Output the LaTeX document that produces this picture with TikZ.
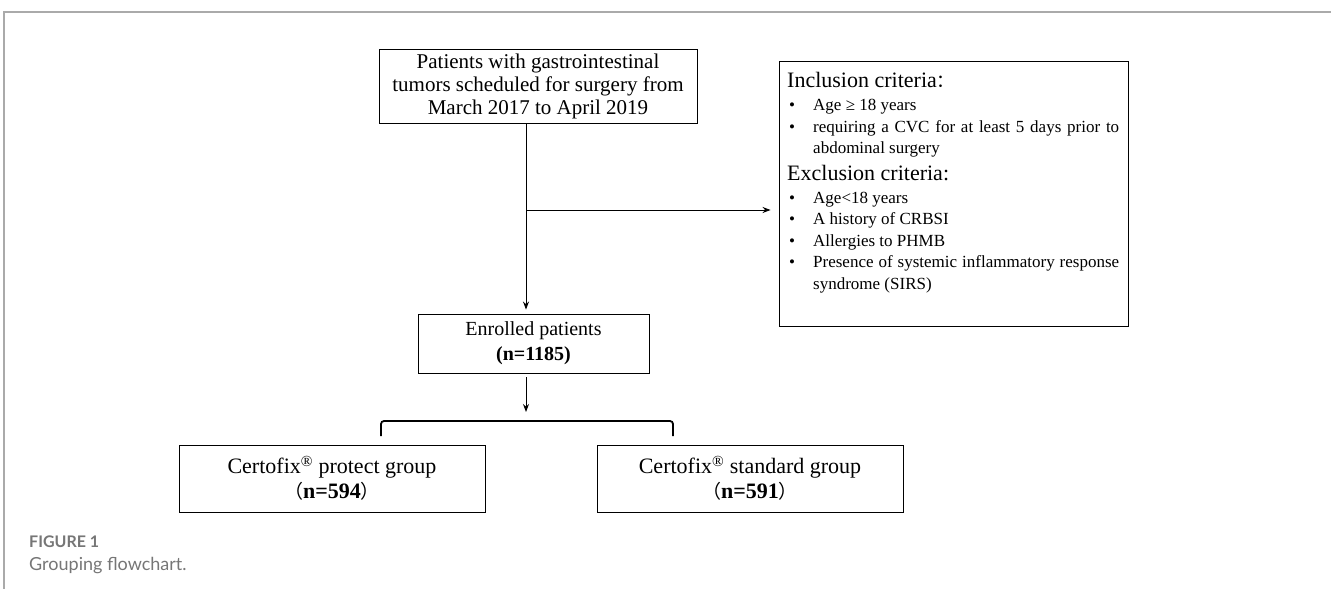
\documentclass[tikz,border=0pt]{standalone}
\usepackage{fontspec}
\setmainfont{Liberation Serif}
\newfontfamily\cjk{Noto Sans CJK SC}
\newfontfamily\capfont{Lato}
\usetikzlibrary{arrows.meta}
\definecolor{capgray}{RGB}{118,118,118}
\definecolor{framegray}{RGB}{170,170,170}
\tikzset{
  box/.style={draw=black, line width=0.9pt, inner sep=0pt, align=center},
  conn/.style={line width=0.9pt},
  arr/.style={conn, -{Stealth[length=8pt,width=6pt]}},
  bracketline/.style={line width=1.8pt, rounded corners=3pt},
  boxfont/.style={font=\fontsize{21}{23}\selectfont},
  groupfont/.style={font=\fontsize{22}{25}\selectfont},
}
\begin{document}
\begin{tikzpicture}[x=1pt,y=-1pt]
\useasboundingbox (0,0) rectangle (1331,589);
% frame
\draw[framegray, line width=1.6pt] (1331,12) -- (4,12) -- (4,589);

% top box
\node[box, boxfont, minimum width=318pt, minimum height=74pt] (p) at (538,86)
  {Patients with gastrointestinal\\tumors scheduled for surgery from\\March 2017 to April 2019};

% criteria box
\node[box, minimum width=349pt, minimum height=265pt] (crit) at (953.5,193.5) {};
\node[anchor=north west, inner sep=0pt, text width=332pt, align=justify] (critx) at (787,72) {%
{\fontsize{22}{27}\selectfont Inclusion criteria{\cjk\fontsize{18}{27}\selectfont ：}\par}
\fontsize{17}{21.5}\selectfont
\vspace{2pt}
\hangindent=26pt\hangafter=1\noindent\makebox[26pt][l]{\hspace{2pt}\textbullet}Age ≥ 18 years\par
\hangindent=26pt\hangafter=1\noindent\makebox[26pt][l]{\hspace{2pt}\textbullet}requiring a CVC for at least 5 days prior to\linebreak abdominal surgery\par
{\fontsize{22}{27}\selectfont Exclusion criteria:\par}
\fontsize{17}{21.5}\selectfont
\vspace{1pt}
\hangindent=26pt\hangafter=1\noindent\makebox[26pt][l]{\hspace{2pt}\textbullet}Age<18 years\par
\hangindent=26pt\hangafter=1\noindent\makebox[26pt][l]{\hspace{2pt}\textbullet}A history of CRBSI\par
\hangindent=26pt\hangafter=1\noindent\makebox[26pt][l]{\hspace{2pt}\textbullet}Allergies to PHMB\par
\hangindent=26pt\hangafter=1\noindent\makebox[26pt][l]{\hspace{2pt}\textbullet}Presence of systemic inflammatory response\linebreak syndrome (SIRS)\par
};

% enrolled box
\node[box, font=\fontsize{20}{25}\selectfont, minimum width=231pt, minimum height=59pt] (e) at (533.5,343.5)
  {Enrolled patients\\\textbf{(n=1185)}};

% group boxes
\node[box, groupfont, minimum width=306pt, minimum height=67pt] (g1) at (332,478.5)
  {Certofix\textsuperscript{®} protect group\\{\cjk\fontsize{19}{25}\selectfont （}\textbf{n=594}{\cjk\fontsize{19}{25}\selectfont ）}};
\node[box, groupfont, minimum width=306pt, minimum height=67pt] (g2) at (750,478.5)
  {Certofix\textsuperscript{®} standard group\\{\cjk\fontsize{19}{25}\selectfont （}\textbf{n=591}{\cjk\fontsize{19}{25}\selectfont ）}};

% connectors
\coordinate (j) at (526,210);
\coordinate (bt) at (526,421);
\coordinate (bl) at (381,436);
\coordinate (br) at (673,436);
\draw[conn] (p.south -| j) -- (j);
\draw[arr, shorten >=4pt] (j) -- (e.north -| j);
\draw[arr, shorten >=8pt] (j) -- (crit.west |- j);
\draw[arr, shorten <=4pt, shorten >=9pt] (e.south -| j) -- (bt);
\draw[bracketline] (bl) -- (bl |- bt) -- (br |- bt) -- (br);

% caption
\node[anchor=base west, inner sep=0pt, text=capgray, font=\capfont\bfseries\fontsize{16}{18}\selectfont] (fig) at (29,547) {FIGURE 1};
\node[anchor=base west, inner sep=0pt, text=capgray, font=\capfont\fontsize{18}{20}\selectfont] (cap) at (29,570) {Grouping flowchart.};
\end{tikzpicture}
\end{document}
